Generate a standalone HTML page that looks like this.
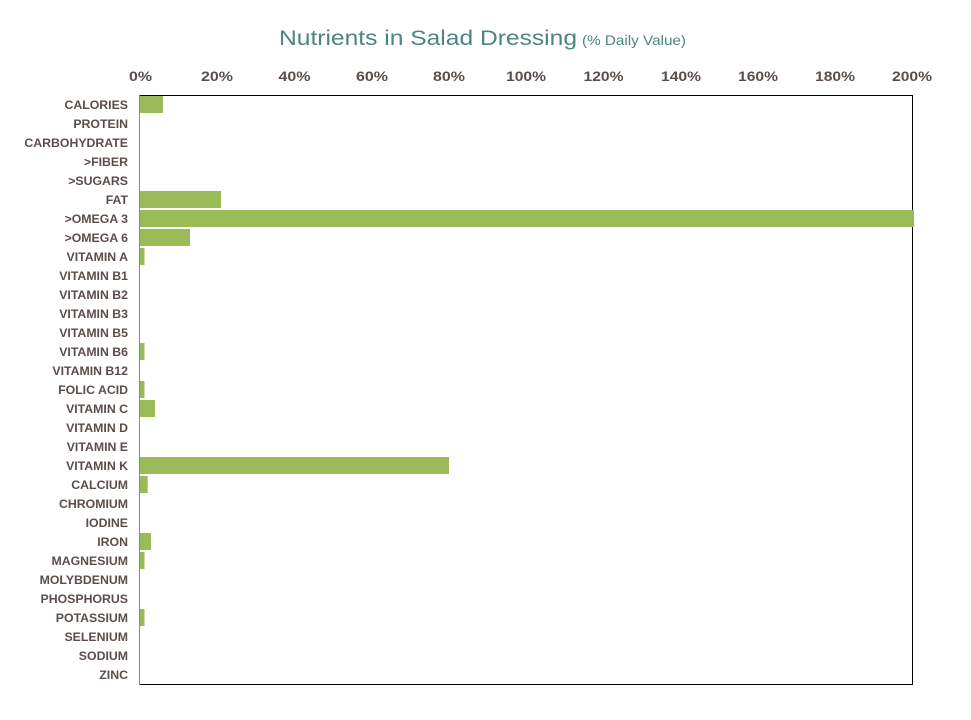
<!DOCTYPE html>
<html><head><meta charset="utf-8"><style>
html,body{margin:0;padding:0;background:#fff;}
svg{display:block;}
.lab{font-family:"Liberation Sans",sans-serif;font-weight:bold;font-size:12.3px;fill:#5a4e4a;}
.tick{font-family:"Liberation Sans",sans-serif;font-weight:bold;font-size:14px;fill:#5a4e4a;}
</style></head><body>
<svg width="971" height="720" viewBox="0 0 971 720" xmlns="http://www.w3.org/2000/svg">
<rect width="971" height="720" fill="#fff"/>
<text x="279" y="45" font-family="Liberation Sans, sans-serif" font-size="21" fill="#4a8580" textLength="298" lengthAdjust="spacingAndGlyphs">Nutrients in Salad Dressing</text>
<text x="582" y="45" font-family="Liberation Sans, sans-serif" font-size="14" fill="#4a8580" textLength="104" lengthAdjust="spacingAndGlyphs">(% Daily Value)</text>
<g class="tick" text-anchor="middle">
<text x="140.5" y="81" textLength="23" lengthAdjust="spacingAndGlyphs">0%</text>
<text x="217" y="81" textLength="32" lengthAdjust="spacingAndGlyphs">20%</text>
<text x="294.5" y="81" textLength="32" lengthAdjust="spacingAndGlyphs">40%</text>
<text x="372" y="81" textLength="32" lengthAdjust="spacingAndGlyphs">60%</text>
<text x="449" y="81" textLength="32" lengthAdjust="spacingAndGlyphs">80%</text>
<text x="526" y="81" textLength="40" lengthAdjust="spacingAndGlyphs">100%</text>
<text x="603.5" y="81" textLength="40" lengthAdjust="spacingAndGlyphs">120%</text>
<text x="681" y="81" textLength="40" lengthAdjust="spacingAndGlyphs">140%</text>
<text x="758" y="81" textLength="40" lengthAdjust="spacingAndGlyphs">160%</text>
<text x="835" y="81" textLength="40" lengthAdjust="spacingAndGlyphs">180%</text>
<text x="912" y="81" textLength="40" lengthAdjust="spacingAndGlyphs">200%</text>
</g>
<line x1="139" y1="95.5" x2="912.5" y2="95.5" stroke="#000" stroke-width="1"/>
<line x1="912.5" y1="95" x2="912.5" y2="685" stroke="#000" stroke-width="1"/>
<line x1="139" y1="684.5" x2="913" y2="684.5" stroke="#000" stroke-width="1"/>
<g fill="#9bbb59">
<rect x="140" y="96" width="23" height="17"/>
<rect x="140" y="191" width="81" height="17"/>
<rect x="140" y="210" width="774" height="17"/>
<rect x="140" y="229" width="50" height="17"/>
<rect x="140" y="248" width="4.5" height="17"/>
<rect x="140" y="343" width="4.5" height="17"/>
<rect x="140" y="381" width="4.5" height="17"/>
<rect x="140" y="400" width="15" height="17"/>
<rect x="140" y="457" width="309" height="17"/>
<rect x="140" y="476" width="7.7" height="17"/>
<rect x="140" y="533" width="11" height="17"/>
<rect x="140" y="552" width="4.5" height="17"/>
<rect x="140" y="609" width="4.5" height="17"/>
</g>
<line x1="139.5" y1="95" x2="139.5" y2="685" stroke="#888" stroke-width="1"/>
<g class="lab" text-anchor="end">
<text x="128" y="109">CALORIES</text>
<text x="128" y="128">PROTEIN</text>
<text x="128" y="147">CARBOHYDRATE</text>
<text x="128" y="166">&gt;FIBER</text>
<text x="128" y="185">&gt;SUGARS</text>
<text x="128" y="204">FAT</text>
<text x="128" y="223">&gt;OMEGA 3</text>
<text x="128" y="242">&gt;OMEGA 6</text>
<text x="128" y="261">VITAMIN A</text>
<text x="128" y="280">VITAMIN B1</text>
<text x="128" y="299">VITAMIN B2</text>
<text x="128" y="318">VITAMIN B3</text>
<text x="128" y="337">VITAMIN B5</text>
<text x="128" y="356">VITAMIN B6</text>
<text x="128" y="375">VITAMIN B12</text>
<text x="128" y="394">FOLIC ACID</text>
<text x="128" y="413">VITAMIN C</text>
<text x="128" y="432">VITAMIN D</text>
<text x="128" y="451">VITAMIN E</text>
<text x="128" y="470">VITAMIN K</text>
<text x="128" y="489">CALCIUM</text>
<text x="128" y="508">CHROMIUM</text>
<text x="128" y="527">IODINE</text>
<text x="128" y="546">IRON</text>
<text x="128" y="565">MAGNESIUM</text>
<text x="128" y="584">MOLYBDENUM</text>
<text x="128" y="603">PHOSPHORUS</text>
<text x="128" y="622">POTASSIUM</text>
<text x="128" y="641">SELENIUM</text>
<text x="128" y="660">SODIUM</text>
<text x="128" y="679">ZINC</text>
</g>
</svg>
</body></html>
